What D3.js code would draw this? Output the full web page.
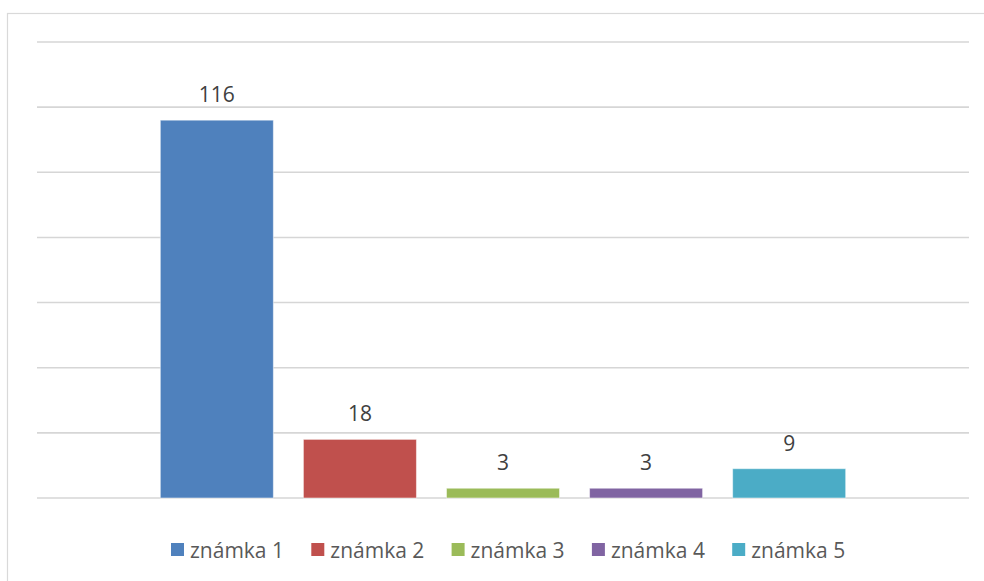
<!DOCTYPE html>
<html lang="cs">
<head>
<meta charset="UTF-8">
<title>Známky</title>
<script src="https://d3js.org/d3.v7.min.js"></script>
<style>
  html, body { margin: 0; padding: 0; background: #fff; }
  svg { display: block; font-family: "Open Sans", sans-serif; }
  .grid line { stroke: #d6d6d6; stroke-width: 1.6; }
  .label { font-size: 21px; fill: #404040; text-anchor: middle; }
  .legend text { font-size: 21px; fill: #595959; }
</style>
</head>
<body>
<div id="chart"></div>
<script>
  // data
  const series = ["známka 1", "známka 2", "známka 3", "známka 4", "známka 5"];
  const values = [116, 18, 3, 3, 9];
  const colors = ["#4f81bd", "#c0504d", "#9bbb59", "#8064a2", "#4bacc6"];
  const yTicks = [0, 20, 40, 60, 80, 100, 120, 140];

  const width = 984, height = 581;
  const plot = { left: 37, right: 969, top: 42, bottom: 498 };

  const svg = d3.select("#chart").append("svg")
    .attr("width", width)
    .attr("height", height);

  // chart frame (cut off on right and bottom)
  svg.append("rect")
    .attr("x", 7.5).attr("y", 13.5)
    .attr("width", 1100).attr("height", 700)
    .attr("fill", "none")
    .attr("stroke", "#d9d9d9")
    .attr("stroke-width", 1.2);

  const y = d3.scaleLinear()
    .domain([0, 140])
    .range([plot.bottom, plot.top]);

  // one category holding five series, centred in the plot
  const cx = (plot.left + plot.right) / 2;
  const clusterHalf = 357.7;
  const x = d3.scaleBand()
    .domain(series)
    .range([cx - clusterHalf, cx + clusterHalf])
    .paddingInner(0.21)
    .paddingOuter(0.105);

  svg.append("g").attr("class", "grid")
    .selectAll("line")
    .data(yTicks)
    .join("line")
    .attr("x1", plot.left).attr("x2", plot.right)
    .attr("y1", d => y(d)).attr("y2", d => y(d));

  const data = series.map((s, i) => ({ name: s, value: values[i], color: colors[i] }));

  svg.append("g")
    .selectAll("rect")
    .data(data)
    .join("rect")
    .attr("x", d => x(d.name))
    .attr("y", d => y(d.value))
    .attr("width", x.bandwidth())
    .attr("height", d => y(0) - y(d.value))
    .attr("fill", d => d.color)
    .attr("stroke", "rgba(255,255,255,0.5)")
    .attr("stroke-width", 1);

  svg.append("g")
    .selectAll("text")
    .data(data)
    .join("text")
    .attr("class", "label")
    .attr("x", d => x(d.name) + x.bandwidth() / 2)
    .attr("y", d => y(d.value) - 18)
    .text(d => d.value);

  // legend
  const legend = svg.append("g").attr("class", "legend");
  const item = legend.selectAll("g")
    .data(data)
    .join("g")
    .attr("transform", (d, i) => `translate(${171 + i * 140.3},0)`);

  item.append("rect")
    .attr("x", 0).attr("y", 543)
    .attr("width", 13).attr("height", 13)
    .attr("fill", d => d.color);

  item.append("text")
    .attr("x", 19).attr("y", 557.5)
    .text(d => d.name);
</script>
</body>
</html>
